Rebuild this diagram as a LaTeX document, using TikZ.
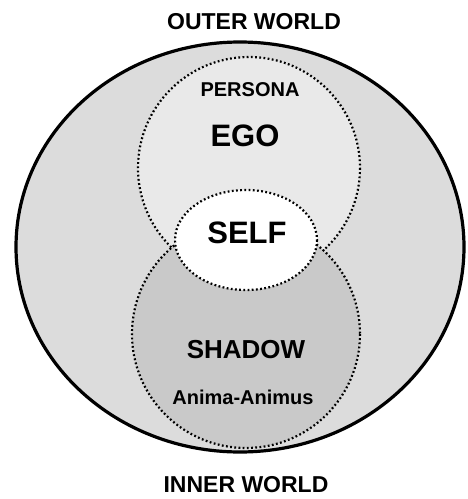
\documentclass[tikz,border=0pt]{standalone}
\usepackage{fontspec}
\setmainfont{Liberation Sans}
\definecolor{outergray}{HTML}{DCDCDC}
\definecolor{egogray}{HTML}{E9E9E9}
\definecolor{shadowgray}{HTML}{C9C9C9}
\begin{document}
\begin{tikzpicture}[x=1pt,y=-1pt]
        \tikzstyle{rim}=[line width=2.2pt, dash pattern=on 1.8pt off 2.4pt]
        \tikzstyle{label}=[inner sep=0pt, font=\bfseries]

        \useasboundingbox (0,0) rectangle (467,499);

        \fill[outergray] (240,247) ellipse [x radius=224, y radius=205];
        \fill[egogray] (249,168) circle [radius=111];
        \draw[rim] (249,168) circle [radius=111];
        \fill[shadowgray] (246,334) circle [radius=114];
        \draw[rim] (246,334) circle [radius=114];
        \fill[white] (246,240) ellipse [x radius=71, y radius=50];
        \draw[rim] (246,240) ellipse [x radius=71, y radius=50];
        \draw[line width=3.2pt] (240,247) ellipse [x radius=224, y radius=205];

        \node[label, font=\bfseries\fontsize{23}{23}\selectfont] (outer) at (254,22) {OUTER WORLD};
        \node[label, font=\bfseries\fontsize{20}{20}\selectfont] (persona) at (250,90) {PERSONA};
        \node[label, font=\bfseries\fontsize{31}{31}\selectfont] (ego) at (245,136) {EGO};
        \node[label, font=\bfseries\fontsize{31}{31}\selectfont] (self) at (247,233) {SELF};
        \node[label, font=\bfseries\fontsize{26}{26}\selectfont] (shadow) at (246,350) {SHADOW};
        \node[label, font=\bfseries\fontsize{20}{20}\selectfont] (anima) at (243,397) {Anima-Animus};
        \node[label, font=\bfseries\fontsize{23}{23}\selectfont] (inner) at (246,485) {INNER WORLD};
    \end{tikzpicture}
\end{document}
